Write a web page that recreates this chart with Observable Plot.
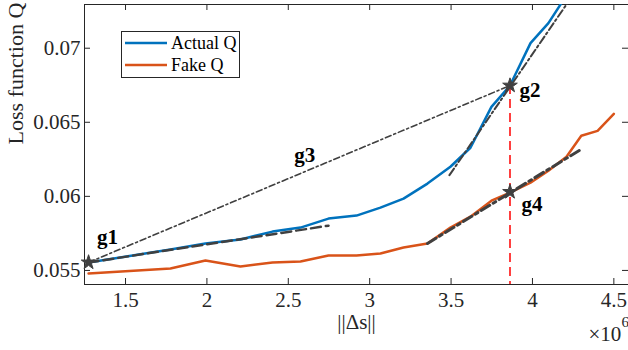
<!DOCTYPE html>
<html><head><meta charset="utf-8">
<script src="https://cdn.jsdelivr.net/npm/d3@7"></script>
<script src="https://cdn.jsdelivr.net/npm/@observablehq/plot@0.6"></script>
<style>
body{margin:0;background:#fff;}
#wrap{position:relative;width:628px;height:350px;overflow:hidden;background:#fff;}
#wrap svg, #wrap svg text{font-family:'Liberation Serif','Times New Roman',serif;}
#legend{position:absolute;left:121px;top:31px;}
</style></head><body><div id="wrap"></div>
<script>
// ---- data ----
const deltaS = [1.273,1.776,1.991,2.206,2.403,2.575,2.747,2.919,3.066,3.208,3.355,3.496,3.619,3.748,3.862,3.988,4.098,4.209,4.30,4.40,4.50];
const actualQ = [0.05554,0.05641,0.05682,0.05709,0.05762,0.05789,0.05850,0.05870,0.05924,0.05985,0.06086,0.06200,0.06328,0.06604,0.06748,0.07034,0.07169,0.07357];
const fakeQ = [0.05480,0.05513,0.05567,0.05527,0.05554,0.05560,0.05601,0.05601,0.05614,0.05655,0.05682,0.05789,0.05863,0.05971,0.06025,0.06092,0.06173,0.06267,0.06409,0.06442,0.06557];
const xTicks = [1.5,2,2.5,3,3.5,4,4.5];
const yTicks = [0.055,0.06,0.065,0.07];
const points = [
  {name:"g1", x:1.273, y:0.05554},
  {name:"g2", x:3.862, y:0.06748},
  {name:"g4", x:3.862, y:0.06030}
];
const tangentG1 = [{x:1.273,y:0.05554},{x:2.747,y:0.05802}];
const tangentG2 = [{x:3.490,y:0.06143},{x:4.215,y:0.07305}];
const tangentG4 = [{x:3.355,y:0.05682},{x:4.307,y:0.06323}];
const seriesNames = ["Actual Q","Fake Q"];
const seriesColors = ["#0072BD","#D95319"];

// ---- layout ----
const W = 628, H = 350, mL = 84, mR = 0, mT = 4, mB = 66;
const xDomain = [1.248, 4.59], yDomain = [0.05405, 0.07295];
const font = "'Liberation Serif', 'Times New Roman', serif";
const axisColor = "#262626";
const pxX = (xDomain[1]-xDomain[0])/(W-mL-mR);
const pxY = (yDomain[1]-yDomain[0])/(H-mT-mB);
const tk = 6;

const actual = actualQ.map((y,i)=>({x:deltaS[i], y}));
const fake = fakeQ.map((y,i)=>({x:deltaS[i], y}));
const g1 = points[0], g2 = points[1], g4 = points[2];
const g3line = [g1, g2];
const g3label = {name:"g3", x: g1.x + 0.52*(g2.x-g1.x), y: g1.y + 0.52*(g2.y-g1.y)};
const T = {fontFamily: font};

const chart = Plot.plot({
  width: W, height: H,
  marginLeft: mL, marginRight: mR, marginTop: mT, marginBottom: mB,
  style: {background: "#fff", overflow: "visible"},
  x: {domain: xDomain},
  y: {domain: yDomain},
  marks: [
    // tick labels
    Plot.axisX({...T, ticks: xTicks, tickSize: 0, tickPadding: 8, fontSize: 21, color: axisColor, label: null, tickFormat: d => String(d)}),
    Plot.axisY({...T, ticks: yTicks, tickSize: 0, tickPadding: 4, fontSize: 21, color: axisColor, label: null, tickFormat: d => String(+d.toFixed(3))}),
    // inward ticks
    Plot.ruleX(xTicks, {y1: yDomain[0], y2: yDomain[0] + tk*pxY, stroke: axisColor}),
    Plot.ruleX(xTicks, {y1: yDomain[1], y2: yDomain[1] - tk*pxY, stroke: axisColor}),
    Plot.ruleY(yTicks, {x1: xDomain[0], x2: xDomain[0] + tk*pxX, stroke: axisColor}),
    Plot.ruleY(yTicks, {x1: xDomain[1], x2: xDomain[1] - tk*pxX, stroke: axisColor}),
    // box (no right edge visible)
    Plot.ruleY([yDomain[0], yDomain[1]], {stroke: axisColor}),
    Plot.ruleX([xDomain[0]], {stroke: axisColor}),
    // curves
    Plot.line(actual, {x:"x", y:"y", stroke: seriesColors[0], strokeWidth: 2.5, clip: true}),
    Plot.line(fake, {x:"x", y:"y", stroke: seriesColors[1], strokeWidth: 2.5, clip: true}),
    // red vertical dashed
    Plot.ruleX([g2], {x:"x", y1:"y", y2: () => yDomain[0], stroke: "#FF0000", strokeWidth: 1.5, strokeDasharray: "9,5"}),
    // tangents / chords
    Plot.line(g3line, {x:"x", y:"y", stroke: "#404040", strokeWidth: 1.6, strokeDasharray: "6,3,2,3"}),
    Plot.line(tangentG1, {x:"x", y:"y", stroke: "#404040", strokeWidth: 2.5, strokeDasharray: "10,5"}),
    Plot.line(tangentG2, {x:"x", y:"y", stroke: "#404040", strokeWidth: 2, strokeDasharray: "8,3,2,3", clip: true}),
    Plot.line(tangentG4, {x:"x", y:"y", stroke: "#404040", strokeWidth: 3, strokeDasharray: "10,4,3,4"}),
    // stars
    Plot.dot(points, {x:"x", y:"y", symbol: "star", r: 4.6, fill: "#404040", stroke: "#404040", strokeWidth: 1}),
    // point labels
    Plot.text([g1], {...T, x:"x", y:"y", text:"name", dx: 19, dy: -25, fontSize: 21, fontWeight: "bold", fill: "#000"}),
    Plot.text([g2], {...T, x:"x", y:"y", text:"name", dx: 20, dy: 5, fontSize: 21, fontWeight: "bold", fill: "#000"}),
    Plot.text([g3label], {...T, x:"x", y:"y", text:"name", dx: -3, dy: -15, fontSize: 21, fontWeight: "bold", fill: "#000"}),
    Plot.text([g4], {...T, x:"x", y:"y", text:"name", dx: 22, dy: 12, fontSize: 21, fontWeight: "bold", fill: "#000"}),
    // axis titles
    Plot.text(["Loss function Q"], {...T, frameAnchor: "left", dx: -69, rotate: -90, fontSize: 22, fill: axisColor}),
    Plot.text(["||Δs||"], {...T, frameAnchor: "bottom", dy: 44, fontSize: 21, fill: axisColor}),
    Plot.text(["×10"], {...T, frameAnchor: "bottom-right", textAnchor: "start", dx: -40, dy: 56, fontSize: 21, fill: axisColor}),
    Plot.text(["6"], {...T, frameAnchor: "bottom-right", textAnchor: "start", dx: -7, dy: 42, fontSize: 15, fill: axisColor})
  ]
});
const wrap = document.getElementById("wrap");
wrap.appendChild(chart);

// legend
const leg = document.createElement("div");
leg.id = "legend";
const ns = "http://www.w3.org/2000/svg";
const ls = document.createElementNS(ns, "svg");
ls.setAttribute("width", 120); ls.setAttribute("height", 48);
ls.setAttribute("font-family", font);
const box = document.createElementNS(ns, "rect");
box.setAttribute("x", 0.5); box.setAttribute("y", 0.5); box.setAttribute("width", 118); box.setAttribute("height", 46);
box.setAttribute("fill", "#fff"); box.setAttribute("stroke", axisColor);
ls.appendChild(box);
seriesNames.forEach((n, i) => {
  const yy = 12 + i*22;
  const l = document.createElementNS(ns, "line");
  l.setAttribute("x1", 4); l.setAttribute("x2", 46); l.setAttribute("y1", yy); l.setAttribute("y2", yy);
  l.setAttribute("stroke", seriesColors[i]); l.setAttribute("stroke-width", 2.5);
  ls.appendChild(l);
  const t = document.createElementNS(ns, "text");
  t.setAttribute("x", 50); t.setAttribute("y", yy); t.setAttribute("dy", "0.33em");
  t.setAttribute("font-size", 18); t.setAttribute("fill", "#000");
  t.setAttribute("font-family", font);
  t.textContent = n;
  ls.appendChild(t);
});
leg.appendChild(ls);
wrap.appendChild(leg);
</script>
</body></html>
